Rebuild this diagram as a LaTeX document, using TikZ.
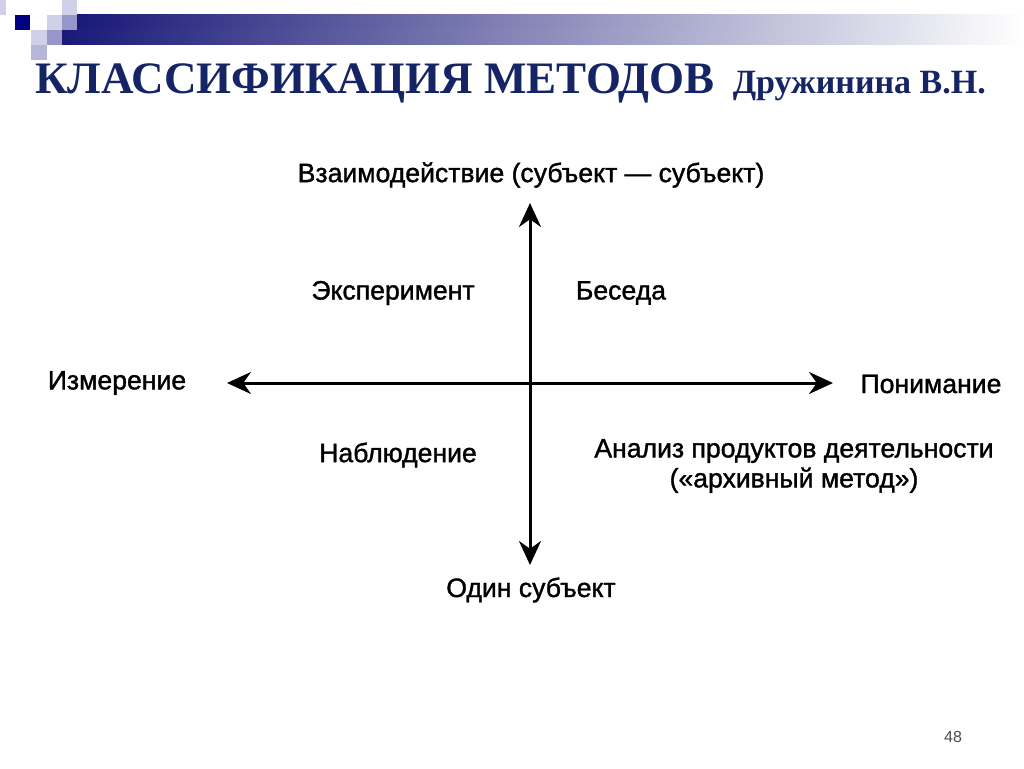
\documentclass[tikz,border=0pt]{standalone}
\usepackage{fontspec}
\setmainfont{Liberation Serif}
\newfontfamily\bodyfont[FakeBold=1.3]{Liberation Sans}
\newfontfamily\numfont{Liberation Sans}
\usetikzlibrary{arrows.meta}
\definecolor{navy}{RGB}{20,36,100}
\definecolor{barnavy}{RGB}{25,25,120}
\definecolor{sqlight}{RGB}{208,208,232}
\definecolor{sqmed}{RGB}{150,150,200}
\definecolor{sqdark}{RGB}{0,0,128}
\tikzset{
  lbl/.style={font=\bodyfont\fontsize{26.6}{30}\selectfont, text=black, inner sep=0pt},
  axis/.style={line width=3pt, {Stealth[length=24pt,width=22pt]}-{Stealth[length=24pt,width=22pt]}},
}
\begin{document}
\begin{tikzpicture}[x=1pt,y=-1pt]
\useasboundingbox (0,0) rectangle (1024,768);
\fill[white] (0,0) rectangle (1024,768);
% decorative header
\shade[left color=barnavy, right color=white] (77,15) rectangle (1024,30);
\shade[left color=barnavy, right color=white] (62,30) rectangle (1024,45);
\fill[sqlight] (0,0) rectangle (6,15);
\fill[sqdark] (15,15) rectangle (30,30);
\fill[sqlight] (62,0) rectangle (77,15);
\fill[sqlight] (47,15) rectangle (62,30);
\fill[sqmed] (62,15) rectangle (77,30);
\fill[sqlight] (31,30) rectangle (47,45);
\fill[sqmed] (47,30) rectangle (62,45);
\fill[sqmed!70!white] (31,45) rectangle (47,60);
% title
\node[anchor=base west, inner sep=0pt, text=navy] (title) at (35,93)
  {\fontsize{45}{50}\selectfont\bfseries КЛАССИФИКАЦИЯ МЕТОДОВ\hspace{18pt}\fontsize{34}{38}\selectfont Дружинина В.Н.};
% axes
\coordinate (top) at (530,203);
\coordinate (bottom) at (530,565);
\coordinate (left) at (227,383);
\coordinate (right) at (833,383);
\draw[axis] (bottom) -- (top);
\draw[axis] (left) -- (right);
% labels
\node[lbl] (vz) at (531,175) {Взаимодействие (субъект — субъект)};
\node[lbl] (eks) at (393,293) {Эксперимент};
\node[lbl] (bes) at (621,293) {Беседа};
\node[lbl] (izm) at (117,383) {Измерение};
\node[lbl] (pon) at (931,384) {Понимание};
\node[lbl] (nab) at (398,455) {Наблюдение};
\node[lbl, align=center] (anal) at (794,466) {Анализ продуктов деятельности\\(«архивный метод»)};
\node[lbl] (odin) at (531,590) {Один субъект};
\node[inner sep=0pt, font=\numfont\fontsize{16}{18}\selectfont, text=black!70] (num) at (953,737) {48};
\end{tikzpicture}
\end{document}
